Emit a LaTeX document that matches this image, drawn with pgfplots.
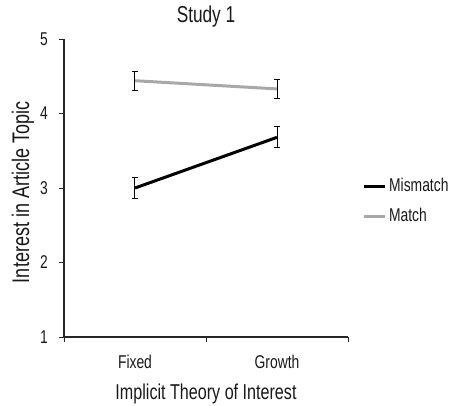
\documentclass[border=0pt]{standalone}
\usepackage{fontspec}
\setmainfont{Liberation Sans}[FakeStretch=0.75]
\usepackage{pgfplots}
\pgfplotsset{compat=1.18}
\definecolor{matchgray}{HTML}{A8A8A8}
\begin{document}
\fontsize{18}{21}\selectfont
\begin{tikzpicture}
\path[use as bounding box] (-64pt,-68pt) rectangle (386pt,337pt);
\begin{axis}[
  scale only axis,
  width=284pt, height=298pt,
  xmin=-0.5, xmax=1.5,
  ymin=1, ymax=5,
  axis lines*=left,
  axis line style={line width=1.1pt, color=black!85},
  tick align=outside,
  major tick length=5pt,
  tick style={line width=0.9pt, color=black!85},
  xtick={-0.5,0.5,1.5},
  xticklabels={},
  extra x ticks={0,1},
  extra x tick labels={Fixed,Growth},
  extra x tick style={major tick length=0pt, tick style={draw=none}},
  ytick={1,2,3,4,5},
  /pgf/number format/assume math mode=true,
  ticklabel style={font=\fontsize{18.5}{21}\selectfont, inner sep=0pt, text=black!90},
  xticklabel style={anchor=base, yshift=-31pt},
  yticklabel style={anchor=east, xshift=-11pt},
  xlabel={Implicit Theory of Interest},
  ylabel={Interest in Article Topic},
  xlabel style={font=\fontsize{21.5}{24}\selectfont, inner sep=0pt,
    at={(axis description cs:0.5,-0.2114)}, anchor=base, text=black!90},
  ylabel style={font=\fontsize{24}{27}\selectfont, inner sep=0pt,
    at={(axis description cs:-0.1444,0.485)}, anchor=center, text=black!90},
  title={Study 1},
  title style={font=\fontsize{23}{26}\selectfont, inner sep=0pt,
    at={(axis description cs:0.5,1.0369)}, anchor=base, text=black!90},
  legend style={at={(axis description cs:1.049,0.4547)}, anchor=west, draw=none, fill=none,
    font=\fontsize{18.5}{22}\selectfont, row sep=14pt, inner sep=0pt,
    nodes={inner sep=0pt, text=black!90}, column sep=3pt},
  legend cell align=left,
  legend image code/.code={\draw[#1, line width=3pt] (0pt,0pt) -- (21pt,0pt);},
]
\addplot[black, line width=3pt, mark=none,
  error bars/.cd, y dir=both, y explicit,
  error bar style={line width=1pt, black},
  error mark options={rotate=90, mark size=3pt, line width=1pt, black}]
  coordinates {(0,3.00) +- (0,0.135) (1,3.68) +- (0,0.14)};
\addlegendentry{Mismatch}
\addplot[matchgray, line width=3pt, mark=none,
  error bars/.cd, y dir=both, y explicit,
  error bar style={line width=1pt, black},
  error mark options={rotate=90, mark size=3pt, line width=1pt, black}]
  coordinates {(0,4.44) +- (0,0.13) (1,4.33) +- (0,0.13)};
\addlegendentry{Match}
\end{axis}
\end{tikzpicture}
\end{document}
